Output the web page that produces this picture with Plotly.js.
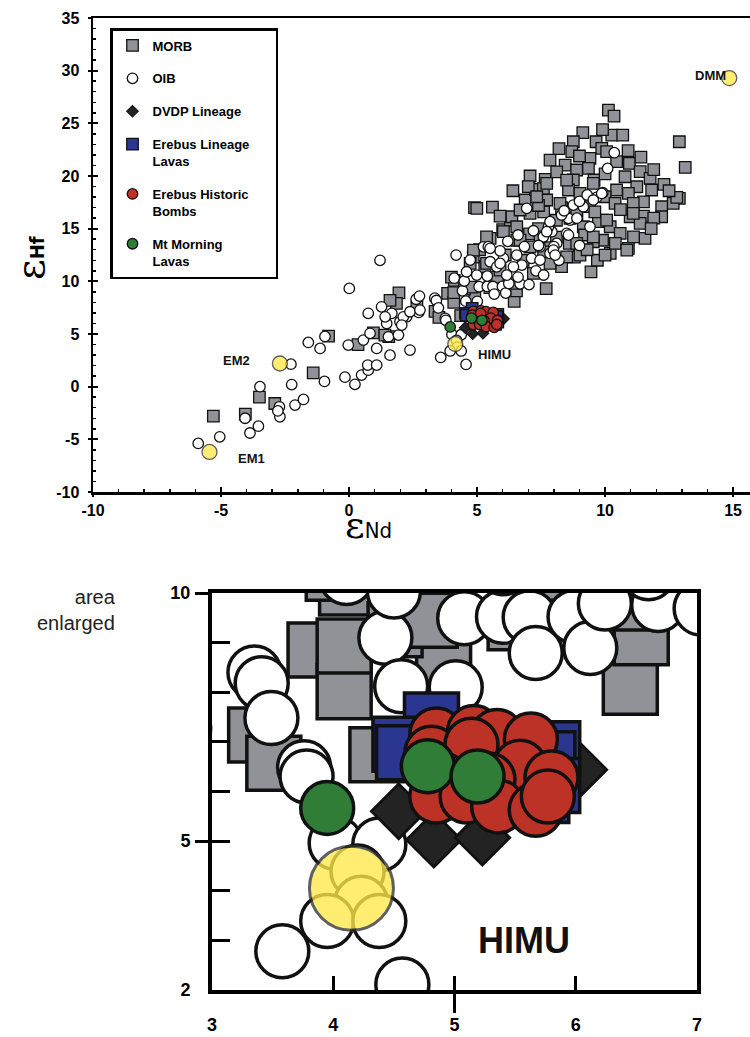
<!DOCTYPE html>
<html><head><meta charset="utf-8">
<script src="https://cdn.plot.ly/plotly-3.0.1.min.js"></script>
<style>html,body{margin:0;padding:0;background:#fff;overflow:hidden}</style>
</head><body>
<div id="chart" style="width:750px;height:1037px"></div>
<script>
// ---------------- data (εNd, εHf) ----------------
const morbNd = [-5.3,-4.05,-3.5,-2.9,-1.4,-0.8,0.35,0.95,1.55,1.4,1.95,1.85,1.6,2.65,3.36,3.51,3.85,4.09,4.09,4.11,4.36,4.91,4.51,4.8,5.5,6.45,6.54,6.54,4.0,5.3,5.8,4.85,5.1,7.7,9.45,8.3,6.0,6.55,7.05,8.1,8.6,9.0,9.9,10.2,6.3,7.6,8.1,8.9,9.4,9.9,4.9,5.6,10.13,10.35,9.13,10.26,10.69,12.9,13.13,8.76,9.65,9.87,8.7,7.85,8.44,9.41,9.35,10.06,10.45,10.95,11.37,11.76,7.07,7.66,8.11,8.89,8.76,9.57,10.78,11.24,11.82,12.9,12.66,12.21,11.5,10.91,10.45,6.88,7.27,7.59,7.72,8.57,9.02,10.0,10.39,6.36,6.55,6.03,5.51,4.99,7.07,8.63,9.15,9.74,10.2,10.59,10.98,11.5,11.56,9.54,6.68,12.21,12.8,10.91,11.11,11.37,7.4,8.3,9.6,10.6,11.1,11.9,9.2,10.4,7.8,8.8,9.7,6.1,7.4,11.9,12.3,10.0,9.0,8.2,10.9,9.9,11.4,12.5,6.4,7.0,5.9,11.8,
  7.72,8.5,9.54,11.1,10.85,10.0,9.02,6.68,5.37,4.86,4.73,8.5,8.89,9.54,10.06,8.89,8.24,7.33,7.46,7.07,7.85,7.2,5.9,5.37,6.8,7.6,9.3];
const morbHf = [-2.8,-2.6,-1.0,-1.6,1.3,4.8,4.0,5.1,4.75,4.9,8.9,7.9,8.2,7.6,7.14,6.57,8.85,8.01,8.93,10.1,6.74,8.45,9.26,9.45,9.4,8.1,9.1,9.8,10.4,11.4,10.4,12.3,13.0,9.3,10.9,11.4,14.9,13.9,14.5,14.2,13.6,12.8,13.9,12.65,15.8,16.6,15.8,16.1,17.1,15.8,17.0,17.05,26.26,25.69,24.11,23.89,23.89,23.25,20.82,23.25,23.25,22.62,22.31,21.51,21.04,21.68,20.73,22.31,21.36,21.2,20.41,19.78,20.0,19.68,20.4,20.57,19.62,19.62,19.93,18.98,18.67,17.88,17.4,17.08,17.55,18.35,18.67,17.72,18.73,18.8,17.72,18.67,18.35,18.03,17.4,16.13,15.18,14.71,14.08,16.93,16.45,15.98,15.18,15.66,15.18,14.55,16.13,16.2,14.08,13.76,13.92,16.13,17.97,13.13,14.23,15.5,17.2,17.0,16.6,16.8,17.4,16.0,14.4,13.6,13.2,12.3,12.0,12.5,15.0,20.6,19.2,20.2,21.9,22.6,22.4,24.4,21.8,18.6,18.6,19.0,16.2,15.0,
  19.3,19.6,19.3,16.45,12.97,12.49,12.49,16.77,14.23,12.97,11.7,12.33,13.6,14.23,15.82,16.77,17.4,18.03,14.23,13.28,11.7,10.75,11.07,11.7,12.0,12.8,13.0];

const oibNd = [-5.89,-5.05,-3.87,-3.54,-4.06,-3.48,-2.7,-2.72,-2.78,-2.11,-1.78,-2.24,-2.27,-1.59,-1.13,-0.94,-0.96,-0.16,0.23,0.49,0.75,0.73,1.08,-0.03,0.01,0.56,1.08,0.75,1.27,1.47,1.54,1.6,1.93,1.99,2.25,2.38,2.62,2.72,1.21,1.67,1.41,2.12,2.38,2.77,2.75,2.06,0.82,3.35,3.41,3.49,3.76,3.78,4.02,4.38,4.20,4.23,3.95,4.38,3.58,4.57,4.43,4.56,4.11,4.50,5.01,5.08,5.40,5.62,5.67,5.99,6.12,6.24,6.68,7.03,4.18,4.59,4.99,5.25,5.51,5.77,6.03,6.16,6.55,6.75,7.13,7.46,7.59,7.85,8.11,8.5,8.63,9.15,9.41,7.92,7.79,4.73,5.4,6.6,7.3,7.6,10.36,10.1,9.91,9.67,8.57,8.3,7.85,7.72,8.57,6.94,8.76,9.0,5.44,6.85,7.4,8.0,9.3,9.54,8.4,8.9,7.98,6.2,6.6,7.2,5.9,8.2,9.0,
  9.87,5.51,8.05,7.46,6.42,5.9];
const oibHf = [-5.39,-4.76,-4.4,-3.75,-3.0,0.0,-2.86,-1.91,-2.3,-1.75,-1.21,0.2,2.14,4.2,3.63,4.77,0.5,0.9,0.22,1.1,1.57,2.05,2.05,3.95,9.33,4.42,3.63,6.96,7.58,6.0,4.74,2.99,4.9,6.16,6.63,3.47,8.3,7.05,11.99,6.96,6.63,6.63,7.11,7.27,8.6,5.85,5.06,8.40,8.18,7.48,6.49,6.30,4.96,4.93,4.39,3.76,3.39,3.39,2.78,2.11,9.10,8.12,10.30,10.03,8.10,9.49,9.52,9.51,8.79,9.52,8.89,9.79,9.76,9.69,12.49,10.91,10.59,13.28,11.86,11.38,12.18,10.59,12.49,11.54,12.18,13.28,14.23,12.65,13.6,14.55,15.82,17.08,15.18,14.71,15.18,12.02,10.5,10.4,11.0,10.6,22.21,20.72,18.41,17.97,15.98,16.3,15.66,14.71,14.39,16.93,17.24,17.6,13.29,13.3,13.4,13.3,18.2,17.72,16.7,16.0,12.97,13.8,14.4,14.8,12.9,12.0,13.4,
  18.35,13.13,12.49,12.02,11.38,11.7];

const dvdpNd = [4.54,4.83,5.23,6.03];
const dvdpHf = [5.60,5.03,5.07,6.44];

const erebusLinNd = [4.81,4.55,4.58,5.81,5.77,5.72,5.81];
const erebusLinHf = [7.44,6.95,6.78,6.86,6.66,5.92,6.12];

const erebusHistNd = [4.85,5.16,5.35,5.63,4.81,5.14,5.54,4.90,5.28,5.80,4.85,5.10,5.36,5.67,5.77];
const erebusHistHf = [7.15,7.20,7.12,7.05,6.78,6.94,6.50,6.24,6.24,6.28,5.90,5.90,5.70,5.63,5.90];

const morningNd = [3.95,4.78,5.19];
const morningHf = [5.67,6.51,6.30];

const endNames = ['EM1','EM2','HIMU','DMM'];
const endNd = [-5.45,-2.7,4.15,14.85];
const endHf = [-6.2,2.2,4.05,29.3];
const endLabelNd = [-3.8,-4.38,5.7,14.1];
const endLabelHf = [-6.8,2.5,3.1,29.55];

const NB = '\u00a0';
const seriesNames = ['MORB','OIB','DVDP Lineage','Erebus Lineage<br>Lavas','Erebus Historic' + NB.repeat(6) + '<br>Bombs','Mt Morning<br>Lavas'];

// tick labels
const topXTicks = [-10,-5,0,5,10,15];
const topYTicks = [-10,-5,0,5,10,15,20,25,30,35];
const botXTicks = [3,4,5,6,7];
const botYTicks = [2,3,4,5,6,7,8,9,10];
const botYLabels = ['2','','','5','','','','','10'];

// ---------------- styling ----------------
const FONT = 'Liberation Sans, Arial, Helvetica, sans-serif';
const C = {morb:'#909297', oib:'#ffffff', dvdp:'#232323', lin:'#2b3690', hist:'#bd3227', morn:'#2f7d36', end:'#ffe94a', edge:'#111111'};
const bold = v => (v === '' ? '' : '<b>' + v + '</b>');

function makeTraces(xa, ya, big) {
  const s = big ? {c:53, q:54, d:42, e:84, lw:3.5, el:3} : {c:10.5, q:11.5, d:9, e:15, lw:1.3, el:1.3};
  const leg = !big;
  const base = {type:'scatter', mode:'markers', xaxis:xa, yaxis:ya, hoverinfo:'skip', cliponaxis:true};
  return [
    Object.assign({}, base, {name:seriesNames[0], legendgroup:'g1', showlegend:leg, x:morbNd, y:morbHf,
      marker:{symbol:'square', size:s.q, color:C.morb, line:{color:C.edge, width:s.lw}}}),
    Object.assign({}, base, {name:seriesNames[1], legendgroup:'g2', showlegend:leg, x:oibNd, y:oibHf,
      marker:{symbol:'circle', size:s.c, color:C.oib, line:{color:C.edge, width:s.lw}}}),
    Object.assign({}, base, {name:seriesNames[2], legendgroup:'g3', showlegend:leg, x:dvdpNd, y:dvdpHf,
      marker:{symbol:'diamond', size:s.d, color:C.dvdp, line:{color:C.edge, width:s.lw*0.8}}}),
    Object.assign({}, base, {name:seriesNames[3], legendgroup:'g4', showlegend:leg, x:erebusLinNd, y:erebusLinHf,
      marker:{symbol:'square', size:s.q, color:C.lin, line:{color:C.edge, width:s.lw}}}),
    Object.assign({}, base, {name:seriesNames[4], legendgroup:'g5', showlegend:leg, x:erebusHistNd, y:erebusHistHf,
      marker:{symbol:'circle', size:s.c, color:C.hist, line:{color:C.edge, width:s.lw}}}),
    Object.assign({}, base, {name:seriesNames[5], legendgroup:'g6', showlegend:leg, x:morningNd, y:morningHf,
      marker:{symbol:'circle', size:s.c, color:C.morn, line:{color:C.edge, width:s.lw}}}),
    Object.assign({}, base, {name:'End members', showlegend:false, x:endNd, y:endHf, text:endNames,
      marker:{symbol:'circle', size:s.e, color:C.end, opacity:0.78, line:{color:'#333333', width:s.el}}})
  ];
}

const traces = makeTraces('x','y',false).concat(makeTraces('x2','y2',true));
// empty helper traces so the overlay tick axes exist
traces.push({type:'scatter', x:[], y:[], xaxis:'x3', yaxis:'y', showlegend:false, hoverinfo:'skip'});
traces.push({type:'scatter', x:[], y:[], xaxis:'x', yaxis:'y3', showlegend:false, hoverinfo:'skip'});
traces.push({type:'scatter', x:[], y:[], xaxis:'x4', yaxis:'y2', showlegend:false, hoverinfo:'skip'});
traces.push({type:'scatter', x:[], y:[], xaxis:'x2', yaxis:'y4', showlegend:false, hoverinfo:'skip'});

const W = 750, H = 1037;
const topX = [93/W, 1], topY = [1-492/H, 1-18/H];
const botX = [212/W, 697/W], botY = [1-990/H, 1-593/H];
const topXR = [-10, 15.66], topYR = [-10, 35];
const botXR = [3, 7], botYR = [2, 10];

const tickFontTop = {family:FONT, size:16, color:'#000'};
const tickFontBot = {family:FONT, size:18, color:'#000'};

const endAnn = endNames.map((n,i)=>({xref:'x', yref:'y', x:endLabelNd[i], y:endLabelHf[i], text:'<b>'+n+'</b>', showarrow:false,
  font:{family:FONT, size:13, color:'#111'}}));

const layout = {
  width:W, height:H, margin:{l:0,r:0,t:0,b:0}, paper_bgcolor:'#fff', plot_bgcolor:'rgba(0,0,0,0)',
  showlegend:true,
  legend:{x:110/W, y:1-28/H, xanchor:'left', yanchor:'top', bgcolor:'#fff', bordercolor:'#000', borderwidth:2.5,
    font:{family:FONT, size:13, color:'#000', weight:'bold'}, tracegroupgap:13, valign:'top', itemclick:false, itemdoubleclick:false},
  xaxis:{domain:topX, range:topXR, anchor:'y', showline:true, linewidth:2.5, linecolor:'#000', mirror:true,
    showgrid:false, zeroline:false, tickmode:'array', tickvals:topXTicks, ticktext:topXTicks.map(bold),
    ticks:'inside', ticklen:5, tickwidth:2, tickcolor:'#000',
    minor:{tickmode:'linear', dtick:1, tick0:-10, ticks:'inside', ticklen:3, tickwidth:1.5, tickcolor:'#000', showgrid:false},
    tickfont:tickFontTop, ticklabelstandoff:2, fixedrange:true},
  yaxis:{domain:topY, range:topYR, anchor:'x', showline:true, linewidth:2.5, linecolor:'#000', mirror:false,
    showgrid:false, zeroline:false, tickmode:'array', tickvals:topYTicks, ticktext:topYTicks.map(bold),
    ticks:'inside', ticklen:5, tickwidth:2, tickcolor:'#000',
    minor:{tickmode:'linear', dtick:1, tick0:-10, ticks:'inside', ticklen:3, tickwidth:1.5, tickcolor:'#000', showgrid:false},
    tickfont:tickFontTop, ticklabelstandoff:8, fixedrange:true},
  xaxis3:{overlaying:'x', anchor:'y', domain:topX, range:topXR, showline:false, showgrid:false, zeroline:false,
    tickmode:'array', tickvals:topXTicks, ticks:'outside', ticklen:4, tickwidth:2, tickcolor:'#000', showticklabels:false, fixedrange:true},
  yaxis3:{overlaying:'y', anchor:'x', side:'left', domain:topY, range:topYR, showline:false, showgrid:false, zeroline:false,
    tickmode:'array', tickvals:topYTicks, ticks:'outside', ticklen:4, tickwidth:2, tickcolor:'#000', showticklabels:false, fixedrange:true},
  xaxis2:{domain:botX, range:botXR, anchor:'y2', showline:true, linewidth:4, linecolor:'#000', mirror:true,
    showgrid:false, zeroline:false, tickmode:'array', tickvals:botXTicks, ticktext:botXTicks.map(bold),
    ticks:'inside', ticklen:14, tickwidth:3, tickcolor:'#000', tickfont:tickFontBot, ticklabelstandoff:15, fixedrange:true},
  yaxis2:{domain:botY, range:botYR, anchor:'x2', showline:true, linewidth:4, linecolor:'#000', mirror:true,
    showgrid:false, zeroline:false, tickmode:'array', tickvals:botYTicks, ticktext:botYLabels.map(bold),
    ticks:'inside', ticklen:18, tickwidth:3, tickcolor:'#000', tickfont:tickFontBot, ticklabelstandoff:14, fixedrange:true},
  xaxis4:{overlaying:'x2', anchor:'y2', domain:botX, range:botXR, showline:false, showgrid:false, zeroline:false,
    tickmode:'array', tickvals:[5], ticks:'outside', ticklen:22, tickwidth:3, tickcolor:'#000', showticklabels:false, fixedrange:true},
  yaxis4:{overlaying:'y2', anchor:'x2', side:'left', domain:botY, range:botYR, showline:false, showgrid:false, zeroline:false,
    tickmode:'array', tickvals:[5,10], ticks:'outside', ticklen:16, tickwidth:3, tickcolor:'#000', showticklabels:false, fixedrange:true},
  annotations: endAnn.concat([
    {xref:'paper', yref:'paper', x:368/W, y:1-525/H, showarrow:false, xanchor:'center', yanchor:'middle',
      text:'<span style="font-family:\'DejaVu Serif\';font-size:38px">ε</span><span style="font-family:\'Liberation Sans Narrow\',\'DejaVu Sans Condensed\',sans-serif;font-size:22px">Nd</span>',
      font:{color:'#000'}},
    {xref:'paper', yref:'paper', x:30/W, y:1-258/H, showarrow:false, textangle:-90, xanchor:'center', yanchor:'middle',
      text:'<span style="font-family:\'DejaVu Serif\';font-size:40px">ε</span><span style="font-family:\'Liberation Sans Narrow\',\'DejaVu Sans Condensed\',sans-serif;font-size:20px;font-weight:bold">Hf</span>',
      font:{color:'#000'}},
    {xref:'paper', yref:'paper', x:118/W, y:1-610/H, showarrow:false, xanchor:'right', yanchor:'middle', align:'right',
      text:'area<br>enlarged', font:{family:FONT, size:20, color:'#222'}},
    {xref:'x2', yref:'y2', x:5.57, y:3.0, showarrow:false, text:'<b>HIMU</b>',
      font:{family:FONT, size:36, color:'#111'}}
  ])
};

Plotly.newPlot('chart', traces, layout, {displayModeBar:false, staticPlot:true});
</script>
</body></html>
